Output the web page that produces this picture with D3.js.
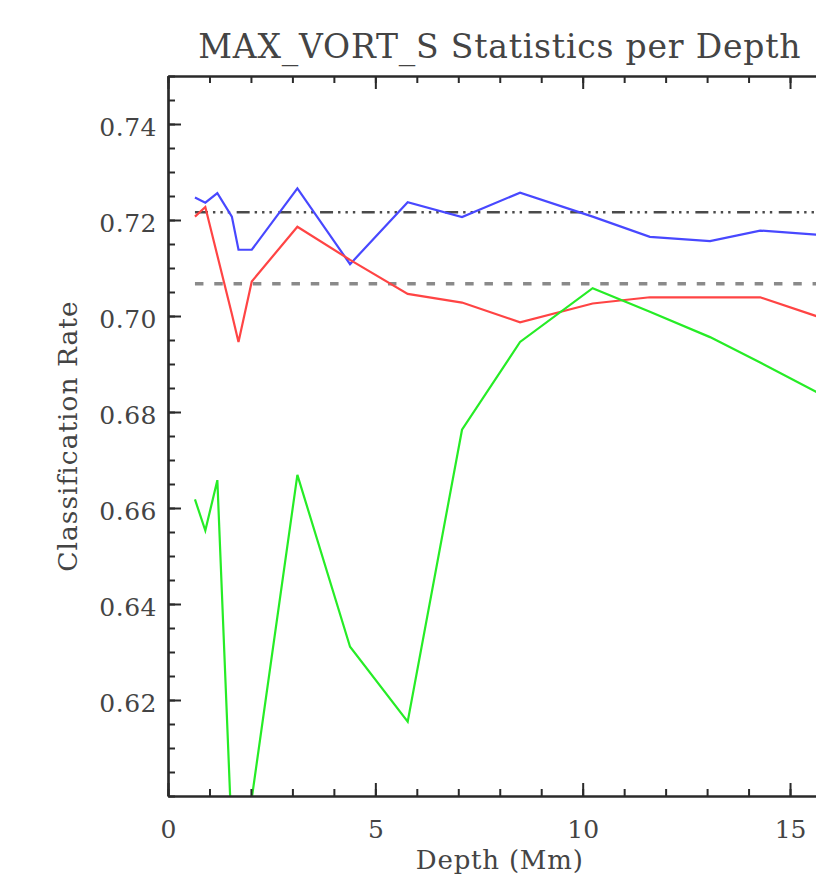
<!DOCTYPE html>
<html>
<head>
<meta charset="utf-8">
<script src="https://cdn.jsdelivr.net/npm/d3@7"></script>
<style>
  body { margin: 0; background: #fff; }
  svg { display: block; }
  text { font-family: "DejaVu Serif", serif; fill: #444; }
</style>
</head>
<body>
<div id="chart"></div>
<script>
// Datos
const depth = [0.65, 0.90, 1.19, 1.54, 1.70, 2.02, 3.12, 4.39, 5.78, 7.09, 8.49, 10.24, 11.62, 13.07, 14.28, 15.90];
const rateBlue = [0.7247, 0.7236, 0.7256, 0.7207, 0.7138, 0.7138, 0.7266, 0.7108, 0.7237, 0.7206, 0.7257, 0.7207, 0.7165, 0.7156, 0.7178, 0.7168];
const rateRed = [0.7207, 0.7227, 0.7126, 0.7004, 0.6946, 0.7072, 0.7186, 0.7117, 0.7046, 0.7028, 0.6987, 0.7026, 0.7039, 0.7039, 0.7039, 0.6992];
const rateGreen = [0.6618, 0.6553, 0.6658, 0.5910, 0.5700, 0.5995, 0.6669, 0.6311, 0.6155, 0.6763, 0.6946, 0.7058, 0.7009, 0.6956, 0.6903, 0.6830];
const refUpper = 0.7216, refLower = 0.7067;
const xTicks = [0, 5, 10, 15];
const yTicks = [0.62, 0.64, 0.66, 0.68, 0.70, 0.72, 0.74];
const titleText = 'MAX_VORT_S Statistics per Depth';

const width = 816, height = 874;
const margin = {left: 168, top: 76, right: -15.5, bottom: 78};

const svg = d3.select('#chart').append('svg')
    .attr('width', width)
    .attr('height', height);

const x = d3.scaleLinear().domain([0, 16]).range([margin.left, width - margin.right]);
const y = d3.scaleLinear().domain([0.60, 0.75]).range([height - margin.bottom, margin.top]);

svg.append('clipPath').attr('id', 'plot-clip')
    .append('rect')
    .attr('x', x(0)).attr('y', y(0.75))
    .attr('width', x(16) - x(0)).attr('height', y(0.60) - y(0.75));

const plot = svg.append('g').attr('clip-path', 'url(#plot-clip)');

// Lineas de referencia
plot.append('line')
    .attr('x1', x(depth[0])).attr('x2', x(depth[depth.length - 1]))
    .attr('y1', y(refLower)).attr('y2', y(refLower))
    .attr('stroke', '#8a8a8a').attr('stroke-width', 3.5)
    .attr('stroke-dasharray', '8.5,10.8');

plot.append('line')
    .attr('x1', x(depth[0])).attr('x2', x(depth[depth.length - 1]))
    .attr('y1', y(refUpper)).attr('y2', y(refUpper))
    .attr('stroke', '#4a4a4a').attr('stroke-width', 2.6)
    .attr('stroke-dasharray', '13,5,2.4,5,2.4,5,2.4,6.5');

// Series
const line = d3.line().x((d, i) => x(depth[i])).y(d => y(d));

[[rateBlue, '#4848ff'], [rateRed, '#ff4444'], [rateGreen, '#26ec26']].forEach(s => {
    plot.append('path')
        .datum(s[0])
        .attr('fill', 'none')
        .attr('stroke', s[1])
        .attr('stroke-width', 2.2)
        .attr('stroke-linejoin', 'miter')
        .attr('d', line);
});

// Ejes
const minorX = d3.range(0, 17, 1);
const minorY = d3.range(0.600, 0.7501, 0.005);

function styleAxis(g) {
    g.select('.domain').attr('stroke', '#2a2a2a').attr('stroke-width', 2.2);
    g.selectAll('.tick line').attr('stroke', '#2a2a2a').attr('stroke-width', 2);
    g.selectAll('.tick text').attr('fill', '#444').attr('font-size', 25)
        .attr('font-family', '"DejaVu Serif", serif');
}

svg.append('g')
    .attr('transform', `translate(0,${y(0.60)})`)
    .call(d3.axisBottom(x).tickValues(minorX).tickSize(-7).tickSizeOuter(0).tickFormat(''))
    .call(styleAxis);
svg.append('g')
    .attr('transform', `translate(0,${y(0.60)})`)
    .call(d3.axisBottom(x).tickValues(xTicks).tickSize(-13).tickSizeOuter(0).tickPadding(24).tickFormat(d3.format('d')))
    .call(styleAxis);

svg.append('g')
    .attr('transform', `translate(0,${y(0.75)})`)
    .call(d3.axisTop(x).tickValues(minorX).tickSize(-7).tickSizeOuter(0).tickFormat(''))
    .call(styleAxis);
svg.append('g')
    .attr('transform', `translate(0,${y(0.75)})`)
    .call(d3.axisTop(x).tickValues(xTicks).tickSize(-13).tickSizeOuter(0).tickFormat(''))
    .call(styleAxis);

svg.append('g')
    .attr('transform', `translate(${x(0)},0)`)
    .call(d3.axisLeft(y).tickValues(minorY).tickSize(-7).tickSizeOuter(0).tickFormat(''))
    .call(styleAxis);
const yAxis = svg.append('g')
    .attr('transform', `translate(${x(0)},0)`)
    .call(d3.axisLeft(y).tickValues(yTicks).tickSize(-13).tickSizeOuter(0).tickPadding(11).tickFormat(d3.format('.2f')))
    .call(styleAxis);
yAxis.selectAll('.tick text').attr('dy', '0.44em').attr('letter-spacing', 0.5);

// Titulos
svg.append('text')
    .attr('x', (x(0) + x(16)) / 2).attr('y', 58)
    .attr('text-anchor', 'middle')
    .attr('font-size', 33)
    .attr('letter-spacing', 0.8)
    .text(titleText);

svg.append('text')
    .attr('x', (x(0) + x(16)) / 2).attr('y', 869)
    .attr('text-anchor', 'middle')
    .attr('font-size', 26)
    .attr('letter-spacing', 0.8)
    .text('Depth (Mm)');

svg.append('text')
    .attr('transform', `translate(77,${(y(0.60) + y(0.75)) / 2}) rotate(-90)`)
    .attr('text-anchor', 'middle')
    .attr('font-size', 26.5)
    .attr('letter-spacing', 1)
    .text('Classification Rate');
</script>
</body>
</html>
